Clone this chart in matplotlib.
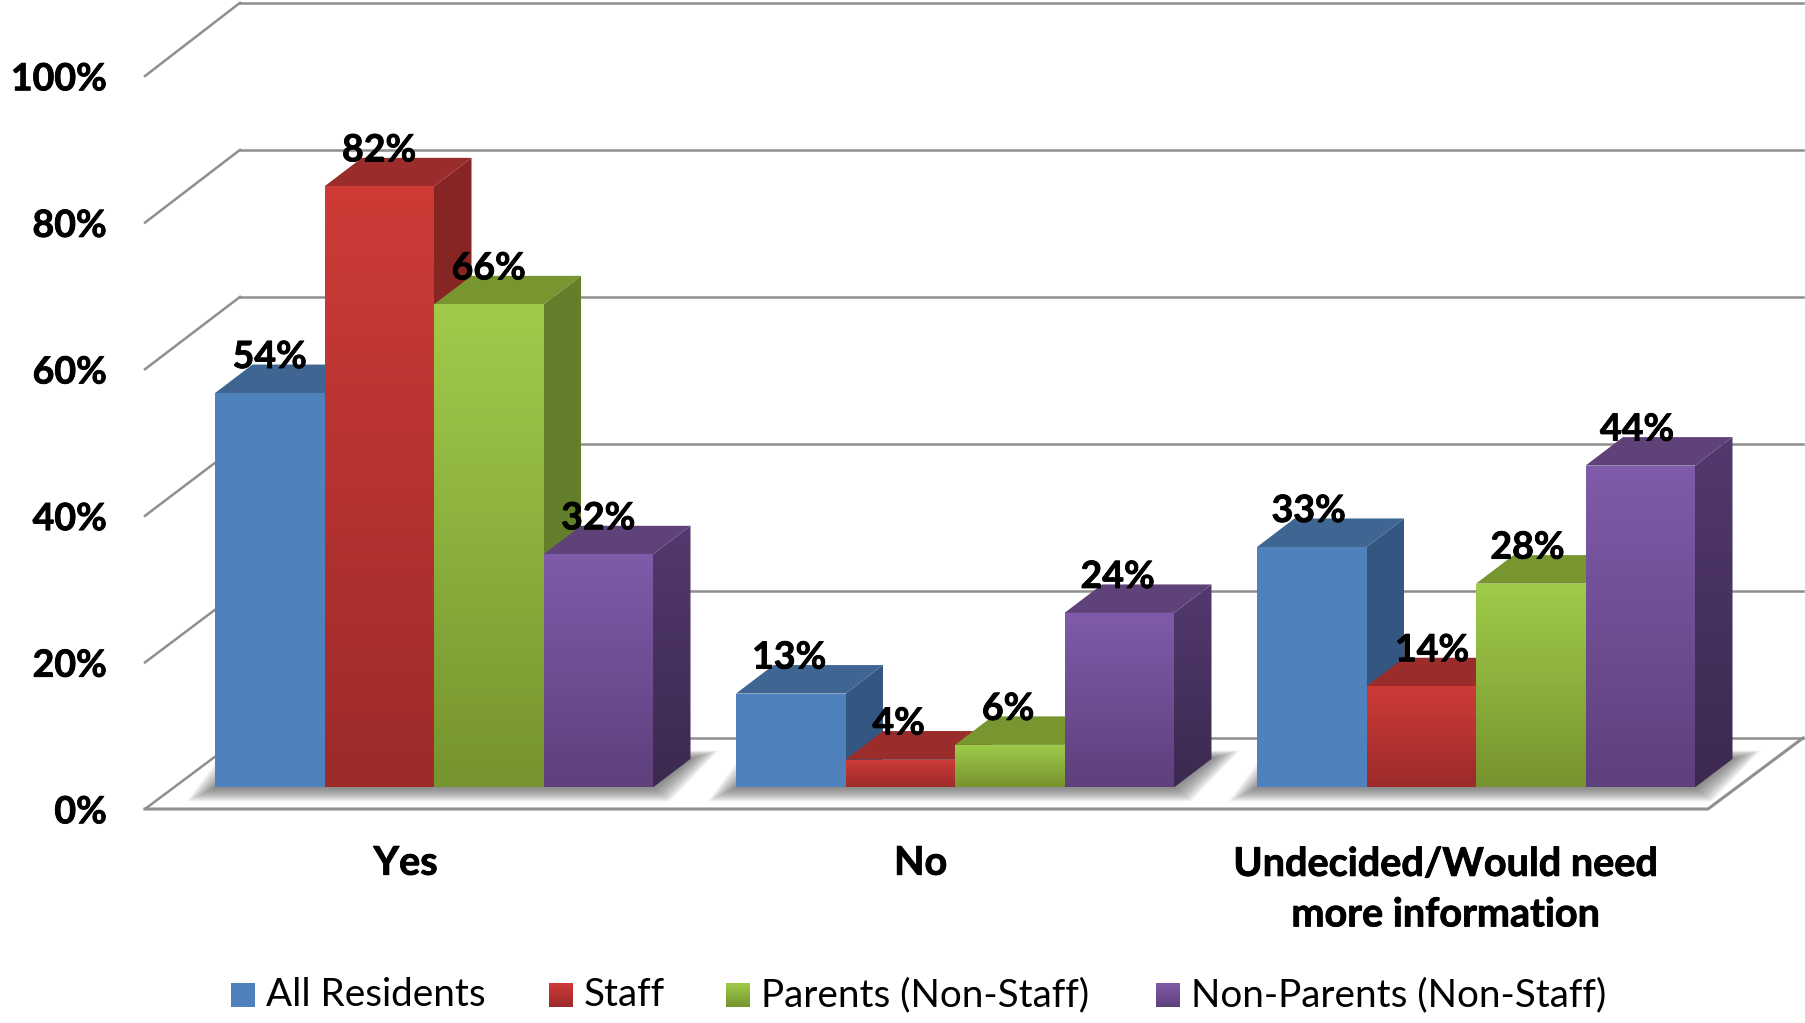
import numpy as np
import matplotlib
matplotlib.use("Agg")
import matplotlib.pyplot as plt
import matplotlib.patheffects as pe
from matplotlib.colors import LinearSegmentedColormap
from matplotlib.patches import Polygon

plt.rcParams['font.family'] = ['Lato', 'DejaVu Sans']

categories = ["Yes", "No", "Undecided/Would need\nmore information"]
series_names = ["All Residents", "Staff", "Parents (Non-Staff)", "Non-Parents (Non-Staff)"]
all_residents = [53.8, 12.8, 32.8]
staff = [82.0, 3.8, 13.8]
parents = [65.9, 5.8, 27.8]
non_parents = [31.8, 23.8, 43.9]
y_ticks = [0, 20, 40, 60, 80, 100]

# cores: frente topo, frente base, tampa, lateral topo, lateral base
blue = ("#4f81bd", "#4f81bd", "#3f6592", "#345781", "#345781")
red = ("#ce3b37", "#9c2b2a", "#9a2c2c", "#872524", "#872524")
green = ("#a0cb4a", "#76942f", "#77962f", "#647f2c", "#647f2c")
purple = ("#7f5ba9", "#5e407c", "#5e4279", "#52396f", "#3c2950")
series_values = [all_residents, staff, parents, non_parents]
series_colors = [blue, red, green, purple]

PX_X = 521.0   # pixels por categoria
PX_Y = 7.33    # pixels por ponto percentual

fig = plt.figure(figsize=(18.06, 10.23), dpi=100)
ax = fig.add_axes([0, 0, 1, 1])

# profundidade da parede e das barras
wall_dx, wall_dy = 95 / PX_X, 71 / PX_Y
wall_scale = 1.003
bar_dx, bar_dy = 37.5 / PX_X, 28.5 / PX_Y
bar_base = 21.6 / PX_Y
bar_start = 70 / PX_X
bar_w = 109.5 / PX_X
n_cat = len(categories)
grid_color = "#8f8f8f"
heavy = [pe.withStroke(linewidth=0.6, foreground="black")]
order = [3]


def next_z():
    order[0] += 1
    return order[0]


def gradient_face(points, top_color, bottom_color):
    # preenche um poligono com gradiente vertical
    xs = [p[0] for p in points]
    ys = [p[1] for p in points]
    z = next_z()
    cmap = LinearSegmentedColormap.from_list("g", [bottom_color, top_color])
    im = ax.imshow(np.linspace(1, 0, 64).reshape(-1, 1), cmap=cmap, vmin=0, vmax=1,
                   extent=(min(xs), max(xs), min(ys), max(ys)), aspect="auto", zorder=z)
    clip = Polygon(points, closed=True, transform=ax.transData, facecolor="none", edgecolor="none")
    ax.add_patch(clip)
    im.set_clip_path(clip)


# grade: parede de fundo e parede lateral
for t in y_ticks:
    back = t * wall_scale + wall_dy
    ax.plot([0, wall_dx], [t, back], color=grid_color, lw=1.8, zorder=1)
    ax.plot([wall_dx, n_cat + wall_dx], [back, back], color=grid_color, lw=1.8, zorder=1)
    ax.text(-0.073, t - 0.45, f"{t}%", ha="right", va="center", fontsize=27, fontweight="bold",
            color="black", path_effects=heavy)

# chao
ax.plot([0, n_cat, n_cat + wall_dx], [0, 0, wall_dy], color=grid_color, lw=2.2, zorder=1)

# sombra no chao, em camadas
for c in range(n_cat):
    x0 = c + bar_start
    x1 = x0 + bar_w * 4
    for i in range(14):
        g = (14 - i) * 2.0
        pts = [(x0 - g / PX_X, bar_base - g * 0.5 / PX_Y),
               (x1 + g * 0.6 / PX_X, bar_base - g * 0.5 / PX_Y),
               (x1 + bar_dx + g * 1.0 / PX_X, bar_base + bar_dy + g * 0.3 / PX_Y),
               (x0 + bar_dx - g / PX_X, bar_base + bar_dy + g * 0.3 / PX_Y)]
        ax.add_patch(Polygon(pts, closed=True, facecolor="#555555", edgecolor="none", alpha=0.07, zorder=2))

# barras
for c in range(n_cat):
    for s in range(len(series_values)):
        v = series_values[s][c]
        col = series_colors[s]
        x0 = c + bar_start + s * bar_w
        x1 = x0 + bar_w
        top = bar_base + v
        side = [(x1, bar_base), (x1 + bar_dx, bar_base + bar_dy),
                (x1 + bar_dx, top + bar_dy), (x1, top)]
        gradient_face(side, col[3], col[4])
        lid = [(x0, top), (x1, top), (x1 + bar_dx, top + bar_dy), (x0 + bar_dx, top + bar_dy)]
        ax.add_patch(Polygon(lid, closed=True, facecolor=col[2], edgecolor="none", zorder=next_z()))
        front = [(x0, bar_base), (x1, bar_base), (x1, top), (x0, top)]
        gradient_face(front, col[0], col[1])

# rotulos de valor por cima de tudo
for c in range(n_cat):
    for s in range(len(series_values)):
        v = series_values[s][c]
        x = c + bar_start + (s + 0.5) * bar_w - c * 0.003
        if c == 2 and s == 1:
            # o 14% esta deslocado para a direita no original
            x += 14 / PX_X
        ax.text(x, bar_base + v + 36 / PX_Y, f"{v:.0f}%", ha="center", va="center",
                fontsize=27, fontweight="bold", color="black", zorder=1000, path_effects=heavy)

# nomes das categorias
label_x = [0.5, 1.489, 2.497]
label_y = [-7.4, -7.4, -11.0]
for c in range(n_cat):
    ax.text(label_x[c], label_y[c], categories[c], ha="center", va="center",
            fontsize=28.5, fontweight="bold", color="black", linespacing=1.45, path_effects=heavy)

# legenda manual, para manter o gradiente nos quadrados
legend_x = [231, 549, 726, 1156]
for s in range(len(series_names)):
    col = series_colors[s]
    lx = (legend_x[s] - 145) / PX_X
    sw = 24 / PX_X
    ly0, ly1 = (809 - 1007) / PX_Y, (809 - 983) / PX_Y
    gradient_face([(lx, ly0), (lx + sw, ly0), (lx + sw, ly1), (lx, ly1)], col[0], col[1])
    ax.text(lx + 35 / PX_X, (ly0 + ly1) / 2, series_names[s], ha="left", va="center",
            fontsize=27.85, color="black")

ax.set_xlim(-145 / PX_X, (1806 - 145) / PX_X)
ax.set_ylim(-(1023 - 809) / PX_Y, 809 / PX_Y)
ax.axis("off")

fig.savefig("out.png", dpi=100, facecolor="white")
